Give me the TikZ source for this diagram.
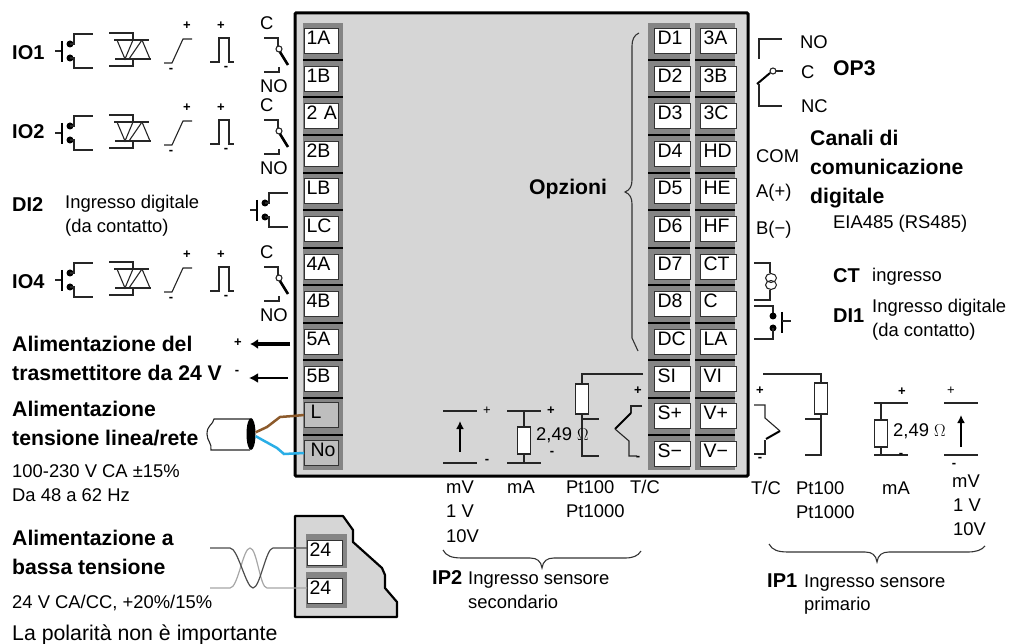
\documentclass[tikz,border=0pt]{standalone}
\usepackage{fontspec}
\setmainfont{Liberation Sans}
\usepackage{tikz}
\usetikzlibrary{shapes}
\usetikzlibrary{arrows.meta}

\definecolor{panelgray}{HTML}{D6D6D6}
\definecolor{slotgray}{HTML}{858585}
\definecolor{cellgray}{HTML}{BEBEBE}
\definecolor{wirebrown}{HTML}{8C5A2B}
\definecolor{wireblue}{HTML}{2AAEE6}

% one contact input symbol, drawn at the position of IO1
\newcommand{\contactsym}{
\draw[wire] (55,51) -- (62,51);
\draw[blade] (62,41) -- (62,62);
\fill (70,44) circle (3.5pt);
\fill (70,58) circle (3.5pt);
\draw[wire] (70,44) -- (74,44) -- (74,34) -- (93,34);
\draw[wire] (70,58) -- (74,58) -- (74,68) -- (93,68);
}

% the row of output symbols, #1 names the nodes, #2 moves the row down
\newcommand{\outputrow}[2]{
\begin{scope}[shift={(0,#2)}]
\contactsym
% triac
\draw[wire] (109,33) -- (133,33) -- (133,40);
\draw[wire] (114,40) -- (149,40);
\draw[wire] (117,40) -- (125,59) -- (133,40);
\draw[wire] (142,40) -- (129,59);
\draw[wire] (142,40) -- (150,59);
\draw[wire] (115,59) -- (151,59);
\draw[wire] (133,59) -- (133,66) -- (109,66);
% logic and pulse
\draw[wire] (164,63) -- (172,63) -- (183,39) -- (192,39);
\node (#1rampplus) [sign] at (187,26) {+};
\node (#1rampminus) [sign] at (171,70) {-};
\draw[wire] (210,62) -- (219,62) -- (219,38) -- (229,38) -- (229,62) -- (234,62);
\node (#1pulseplus) [sign] at (221,26) {+};
\node (#1pulseminus) [sign] at (226,68) {-};
% relay
\draw[wire] (264,38) -- (278,38) -- (278,46);
\draw[wire] (279,49) circle (3pt);
\draw[blade] (280,52) -- (288,65);
\draw[wire] (264,72) -- (279,72) -- (279,67);
\node (#1C) [txt] at (260,30) {C};
\node (#1NO) [txt] at (260,93) {NO};
\end{scope}
}

\begin{document}
\begin{tikzpicture}[x=1pt,y=-1pt]
\tikzstyle{txt}=[anchor=base west,inner sep=0pt,font=\fontsize{18.4}{20}\selectfont]
\tikzstyle{headtxt}=[txt,font=\fontsize{21.2}{23}\selectfont\bfseries]
\tikzstyle{iotxt}=[txt,font=\fontsize{20}{22}\selectfont\bfseries]
\tikzstyle{sign}=[inner sep=0pt,font=\fontsize{13}{13}\selectfont\bfseries]
\tikzstyle{wire}=[draw=black!85,line width=1.1pt]
\tikzstyle{blade}=[draw=black,line width=2.6pt]
\tikzstyle{curly}=[draw=black!80,line width=1.1pt]
\tikzstyle{resistor}=[rectangle,draw=black!85,line width=1.2pt,fill=white,inner sep=0pt,minimum width=13pt,minimum height=30pt]
\tikzstyle{terminal}=[rectangle,anchor=north west,draw=black!80,line width=1pt,fill=white,minimum height=25pt,text height=14pt,text depth=7pt,inner ysep=2pt,align=left,font=\fontsize{19.5}{20}\selectfont]
\tikzstyle{termleft}=[terminal,minimum width=34pt,text width=30pt,inner xsep=2pt]
\tikzstyle{termright}=[terminal,minimum width=35pt,text width=30pt,inner xsep=3pt]
\tikzstyle{slot}=[draw=black,line width=2.2pt]

\useasboundingbox (0,0) rectangle (1010,644);

% define the case and its terminal columns
\draw[fill=panelgray,draw=black,line width=3pt,rounded corners=1pt] (295,13) rectangle (748,476);
\fill[slotgray] (303,23) rectangle (343,470);
\fill[slotgray] (648,23) rectangle (690,470);
\fill[slotgray] (695,23) rectangle (735,470);
\foreach \y in {60,97,135,173,210,248,285,323,360,398,435}{
\draw[slot] (303,\y) -- (343,\y);
\draw[slot] (648,\y) -- (690,\y);
\draw[slot] (695,\y) -- (735,\y);
}

% define the terminals
\node (t1A) [termleft] at (304,28) {1A};
\node (t1B) [termleft] at (304,66) {1B};
\node (t2A) [termleft] at (304,103) {\mbox{2 A}};
\node (t2B) [termleft] at (304,141) {2B};
\node (tLB) [termleft] at (304,178) {LB};
\node (tLC) [termleft] at (304,216) {LC};
\node (t4A) [termleft] at (304,254) {4A};
\node (t4B) [termleft] at (304,291) {4B};
\node (t5A) [termleft] at (304,329) {5A};
\node (t5B) [termleft] at (304,366) {5B};
\node (tL) [termleft,fill=cellgray] at (304,402) {\hspace{4pt}L};
\node (tNo) [termleft,fill=cellgray] at (304,440) {\hspace{4pt}No};

\node (tD1) [termright] at (654,28) {D1};
\node (tD2) [termright] at (654,66) {D2};
\node (tD3) [termright] at (654,103) {D3};
\node (tD4) [termright] at (654,141) {D4};
\node (tD5) [termright] at (654,178) {D5};
\node (tD6) [termright] at (654,216) {D6};
\node (tD7) [termright] at (654,254) {D7};
\node (tD8) [termright] at (654,291) {D8};
\node (tDC) [termright] at (654,329) {DC};
\node (tSI) [termright] at (654,366) {SI};
\node (tSp) [termright] at (654,403) {S+};
\node (tSm) [termright] at (654,441) {S−};

\node (t3A) [termright] at (700,28) {3A};
\node (t3B) [termright] at (700,66) {3B};
\node (t3C) [termright] at (700,103) {3C};
\node (tHD) [termright] at (700,141) {HD};
\node (tHE) [termright] at (700,178) {HE};
\node (tHF) [termright] at (700,216) {HF};
\node (tCT) [termright] at (700,254) {CT};
\node (tC) [termright] at (700,291) {C};
\node (tLA) [termright] at (700,329) {LA};
\node (tVI) [termright] at (700,366) {VI};
\node (tVp) [termright] at (700,403) {V+};
\node (tVm) [termright] at (700,441) {V−};

% define the left side inputs and outputs
\node (labIO1) [iotxt] at (12,60) {IO1};
\outputrow{aa}{0}
\node (labIO2) [iotxt] at (12,139) {IO2};
\outputrow{bb}{82}
\node (labDI2) [iotxt] at (12,212) {DI2};
\node (labDI2a) [txt] at (65,209) {Ingresso digitale};
\node (labDI2b) [txt] at (65,233) {(da contatto)};
\begin{scope}[shift={(195,159)}]
\contactsym
\end{scope}
\node (labIO4) [iotxt] at (12,289) {IO4};
\outputrow{cc}{229}

% transmitter supply
\node (labTx1) [headtxt] at (12,352) {Alimentazione del};
\node (labTx2) [headtxt] at (12,381) {trasmettitore da 24 V};
\node (txplus) [sign] at (238,343) {+};
\node (txminus) [sign] at (237,372) {-};
\coordinate (tip5A) at (250,344);
\coordinate (tip5B) at (249,378);
\coordinate (end5A) at (290,344);
\coordinate (end5B) at (288,378);
\draw[line width=3.6pt,-{Latex[length=8pt,width=10pt]}] (end5A) -- (tip5A);
\draw[line width=2.4pt,-{Latex[length=9pt,width=10pt]}] (end5B) -- (tip5B);

% line supply
\node (labLine1) [headtxt] at (12,417) {Alimentazione};
\node (labLine2) [headtxt] at (12,446) {tensione linea/rete};
\node (labLine3) [txt] at (12,477) {100-230 V CA ±15\%};
\node (labLine4) [txt] at (12,501) {Da 48 a 62 Hz};
\draw[wire] (250,419) -- (214,419) .. controls (213,425) and (207,425) .. (207,434) .. controls (207,441) and (212,443) .. (211,450) -- (250,450);
\node (cableEnd) [ellipse,fill=black,inner sep=0pt,minimum width=9pt,minimum height=32pt] at (251,434) {};
\draw[wirebrown,line width=2.5pt] (cableEnd.20) -- (267,427) -- (280,417) -- (293,416) -- (tL.west);
\draw[wireblue,line width=2.5pt] (cableEnd.-25) -- (277,448) -- (284,454) -- (tNo.west);

% low voltage supply
\node (labLow1) [headtxt] at (12,545) {Alimentazione a};
\node (labLow2) [headtxt] at (12,574) {bassa tensione};
\node (labLow3) [txt] at (12,608) {24 V CA/CC, +20\%/15\%};
\node (labLow4) [txt,font=\fontsize{21.3}{23}\selectfont] at (12,640) {La polarità non è importante};
\draw[fill=panelgray,draw=black,line width=2.2pt,line join=round] (295,516) -- (343,516) -- (353,530) -- (353,542) -- (382,568) -- (385,575) -- (385,588) -- (397,602) -- (397,617) -- (295,617) -- cycle;
\fill[slotgray] (306,534) rectangle (347,568);
\fill[slotgray] (306,572) rectangle (347,608);
\node (t24a) [terminal,minimum width=35pt,text width=31pt,inner xsep=2pt] at (307,540) {24};
\node (t24b) [terminal,minimum width=35pt,text width=31pt,inner xsep=2pt] at (307,578) {24};
\draw[black!35,line width=1.2pt] (210,588) -- (230,588) .. controls (238,588) and (243,548) .. (250,548) .. controls (257,548) and (260,588) .. (267,588) -- (t24b.west |- 0,588);
\draw[black!70,line width=1.2pt] (210,548) -- (230,548) .. controls (238,548) and (246,588) .. (253,588) .. controls (260,588) and (266,548) .. (273,548) -- (t24a.west |- 0,548);

% define the options brace
\node (labOpz) [headtxt] at (529,195) {Opzioni};
\draw[curly] (639,33) .. controls (634,35) and (632,40) .. (632,46) -- (632,180) .. controls (632,186) and (630,190) .. (625,192) .. controls (630,194) and (632,198) .. (632,204) -- (632,338) -- (638,351);

% define the right side relay and labels
\node (labNO) [txt] at (800,49) {NO};
\node (labC) [txt] at (801,79) {C};
\node (labNC) [txt] at (801,113) {NC};
\node (labOP3) [headtxt] at (833,76) {OP3};
\draw[wire] (782,39) -- (759,39) -- (759,59);
\draw[blade,line width=2pt] (757,84) -- (770,73);
\draw[wire] (773,71) circle (3pt);
\draw[wire] (776,71) -- (783,71);
\draw[wire] (759,84) -- (759,106) -- (782,106);

\node (labCom) [txt] at (756,163) {COM};
\node (labAp) [txt] at (756,198) {A(+)};
\node (labBm) [txt] at (756,235) {B(−)};
\node (labCan1) [headtxt] at (810,146) {Canali di};
\node (labCan2) [headtxt] at (810,175) {comunicazione};
\node (labCan3) [headtxt] at (810,204) {digitale};
\node (labEIA) [txt] at (833,229) {EIA485 (RS485)};

% current transformer and digital input
\draw[wire] (754,263) -- (770,263) -- (770,273);
\draw[wire] (771,278) ellipse (5.5pt and 4.5pt);
\draw[wire] (771,285) ellipse (5.5pt and 4.5pt);
\draw[wire] (770,290) -- (770,300) -- (754,300);
\node (labCT) [iotxt] at (833,283) {CT};
\node (labCTin) [txt] at (872,282) {ingresso};

\draw[wire] (754,306) -- (773,306) -- (773,316);
\fill (773,316) circle (3.5pt);
\fill (773,328) circle (3.5pt);
\draw[wire] (773,328) -- (773,339) -- (754,339);
\draw[blade] (782,312) -- (782,333);
\draw[wire] (782,321) -- (791,321);
\node (labDI1) [iotxt] at (833,323) {DI1};
\node (labDI1a) [txt] at (872,313) {Ingresso digitale};
\node (labDI1b) [txt] at (872,337) {(da contatto)};

% define the secondary sensor input
\node (Rsec) [resistor] at (582,399) {};
\coordinate (endSI) at (643,374);
\draw[wire] (endSI) -| (Rsec.north);
\draw[wire] (Rsec.south) -- (582,456) -- (599,456);
\draw[wire] (582,419) -- (599,419);
\node (secplus) [sign] at (638,391) {+};
\node (secminus) [sign] at (638,458) {-};
\draw[wire] (642,406) -- (631,406) -- (631,413);
\draw[blade,line width=2pt] (631,413) -- (615,429);
\draw[wire] (615,429) -- (629,441) -- (629,456) -- (637,456);

\draw[wire] (507,411) -- (541,411);
\draw[wire] (507,463) -- (541,463);
\node (Rsecma) [resistor,minimum height=27pt] at (524,440.5) {};
\draw[wire] (Rsecma.north |- 0,411) -- (Rsecma.north);
\draw[wire] (Rsecma.south) -- (Rsecma.south |- 0,463);
\node (secmaplus) [sign] at (551,411) {+};
\node (secmaminus) [sign] at (552,453) {-};
\node (secohm) [txt] at (536,440) {2,49 $\Omega$};

\draw[wire] (443,411) -- (477,411);
\draw[wire] (443,463) -- (477,463);
\draw[line width=2.2pt,-{Latex[length=8pt,width=8pt]}] (460,452) -- (460,421);
\node (secmvplus) [sign,font=\fontsize{13}{13}\selectfont] at (487,411) {+};
\node (secmvminus) [sign] at (487,461) {-};

\node (secmV) [txt] at (446,493) {mV};
\node (sec1V) [txt] at (446,517) {1 V};
\node (sec10V) [txt] at (446,542) {10V};
\node (secmA) [txt] at (507,493) {mA};
\node (secPt1) [txt] at (566,493) {Pt100};
\node (secPt2) [txt] at (566,517) {Pt1000};
\node (secTC) [txt] at (630,493) {T/C};
\draw[curly] (443,550) .. controls (446,556) and (452,558) .. (462,558) -- (530,558) .. controls (537,558) and (541,561) .. (542,568) .. controls (543,561) and (547,558) .. (554,558) -- (625,558) .. controls (633,558) and (638,556) .. (641,551);
\node (labIP2) [iotxt] at (432,584) {IP2};
\node (labIP2a) [txt] at (468,584) {Ingresso sensore};
\node (labIP2b) [txt] at (468,608) {secondario};

% define the primary sensor input
\node (Rpri) [resistor,minimum height=31pt] at (821,398.5) {};
\coordinate (endVI) at (763,374);
\draw[wire] (endVI) -| (Rpri.north);
\draw[wire] (Rpri.south) -- (821,455) -- (805,455);
\draw[wire] (821,419) -- (805,419);
\node (priplus) [sign] at (760,391) {+};
\node (priminus) [sign] at (760,459) {-};
\draw[wire] (754,405) -- (765,405) -- (765,418) -- (780,431);
\draw[blade,line width=2pt] (780,431) -- (766,439);
\draw[wire] (765,440) -- (765,454) -- (754,454);

\draw[wire] (874,403) -- (908,403);
\draw[wire] (874,455) -- (908,455);
\node (Rprima) [resistor,minimum height=27pt] at (881,433.5) {};
\draw[wire] (Rprima.north |- 0,403) -- (Rprima.north);
\draw[wire] (Rprima.south) -- (Rprima.south |- 0,455);
\node (primaplus) [sign] at (902,392) {+};
\node (primaminus) [sign] at (901,455) {-};
\node (priohm) [txt] at (893,436) {2,49 $\Omega$};

\draw[wire] (944,403) -- (978,403);
\draw[wire] (944,455) -- (978,455);
\draw[line width=2.2pt,-{Latex[length=8pt,width=8pt]}] (961,447) -- (961,415);
\node (primvplus) [sign,font=\fontsize{13}{13}\selectfont] at (951,391) {+};
\node (primvminus) [sign] at (954,465) {-};

\node (priTC) [txt] at (751,494) {T/C};
\node (priPt1) [txt] at (796,494) {Pt100};
\node (priPt2) [txt] at (796,518) {Pt1000};
\node (primA) [txt] at (882,494) {mA};
\node (primV) [txt] at (952,487) {mV};
\node (pri1V) [txt] at (953,511) {1 V};
\node (pri10V) [txt] at (953,535) {10V};
\draw[curly] (769,544) .. controls (772,550) and (778,552) .. (788,552) -- (865,552) .. controls (872,552) and (876,555) .. (877,562) .. controls (878,555) and (882,552) .. (889,552) -- (968,552) .. controls (976,552) and (982,550) .. (985,546);
\node (labIP1) [iotxt] at (767,587) {IP1};
\node (labIP1a) [txt] at (804,587) {Ingresso sensore};
\node (labIP1b) [txt] at (804,610) {primario};

\end{tikzpicture}
\end{document}
